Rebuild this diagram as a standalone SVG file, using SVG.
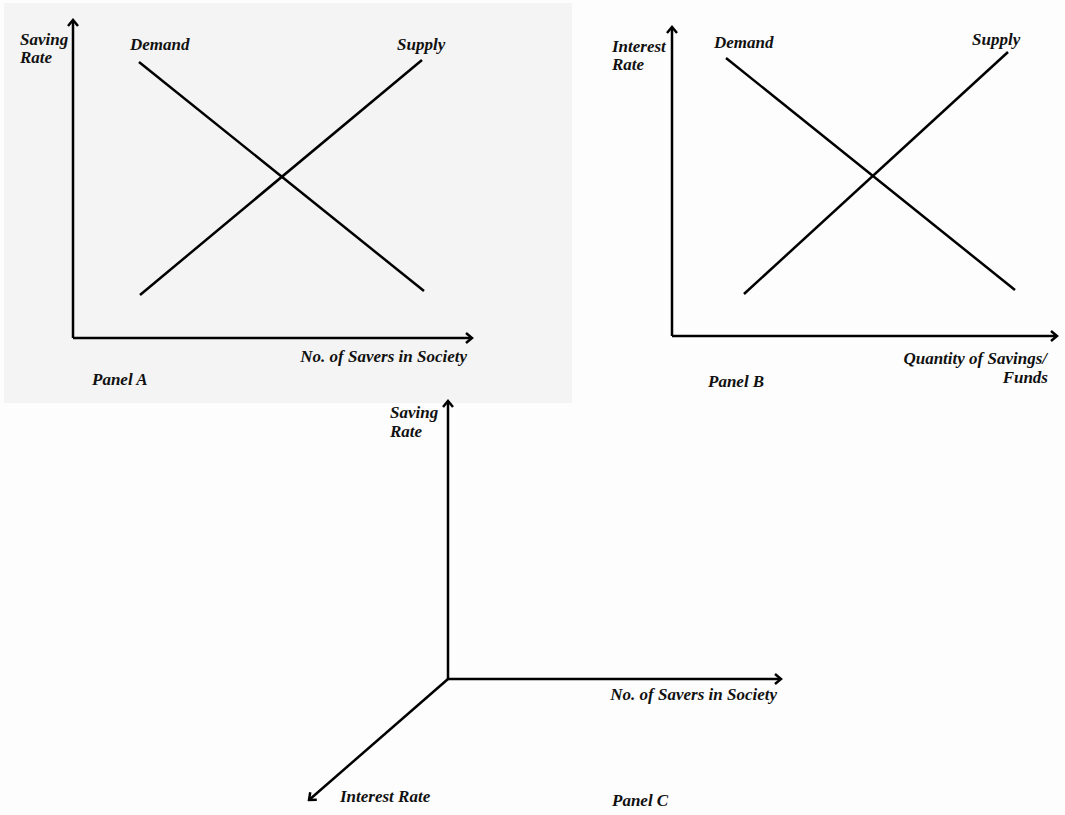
<svg xmlns="http://www.w3.org/2000/svg" width="1065" height="815" viewBox="0 0 1065 815">
<defs>
<style>
.t{font-family:'Liberation Serif','DejaVu Serif',serif;font-weight:700;font-style:italic;font-size:17px;fill:#111}
.ax{stroke:#000;stroke-width:2.5;fill:none}
.ln{stroke:#000;stroke-width:2.5;fill:none}
</style>
<marker id="arr" markerWidth="12" markerHeight="12" refX="10" refY="6" orient="auto" markerUnits="userSpaceOnUse">
<path d="M4,1 L10,6 L4,11" fill="none" stroke="#000" stroke-width="2.5"/>
</marker>
</defs>
<rect width="1065" height="815" fill="#fdfdfd"/>
<rect x="4" y="3" width="568" height="400" fill="#f4f4f4"/>
<g id="panelA">
<path class="ax" d="M73,338 L73,20" marker-end="url(#arr)"/>
<path class="ax" d="M73,338 L472,338" marker-end="url(#arr)"/>
<line class="ln" x1="139" y1="62" x2="424" y2="291"/>
<line class="ln" x1="140" y1="295" x2="422" y2="60"/>
<text class="t" x="20" y="45">Saving</text>
<text class="t" x="20" y="63">Rate</text>
<text class="t" x="130" y="50">Demand</text>
<text class="t" x="397" y="50">Supply</text>
<text class="t" x="467" y="362" text-anchor="end">No. of Savers in Society</text>
<text class="t" x="92" y="385">Panel A</text>
</g>
<g id="panelB">
<path class="ax" d="M672,336 L672,27" marker-end="url(#arr)"/>
<path class="ax" d="M672,336 L1057,336" marker-end="url(#arr)"/>
<line class="ln" x1="726" y1="58" x2="1015" y2="290"/>
<line class="ln" x1="744" y1="294" x2="1008" y2="52"/>
<text class="t" x="612" y="52">Interest</text>
<text class="t" x="612" y="70">Rate</text>
<text class="t" x="714" y="48">Demand</text>
<text class="t" x="972" y="45">Supply</text>
<text class="t" x="1047" y="364" text-anchor="end">Quantity of Savings/</text>
<text class="t" x="1048" y="383" text-anchor="end">Funds</text>
<text class="t" x="708" y="387">Panel B</text>
</g>
<g id="panelC">
<path class="ax" d="M448,679 L448,401" marker-end="url(#arr)"/>
<path class="ax" d="M448,679 L781,679" marker-end="url(#arr)"/>
<path class="ax" d="M448,679 L309,800" marker-end="url(#arr)"/>
<text class="t" x="390" y="418">Saving</text>
<text class="t" x="390" y="437">Rate</text>
<text class="t" x="777" y="700" text-anchor="end">No. of Savers in Society</text>
<text class="t" x="340" y="802">Interest Rate</text>
<text class="t" x="612" y="806">Panel C</text>
</g>
</svg>
